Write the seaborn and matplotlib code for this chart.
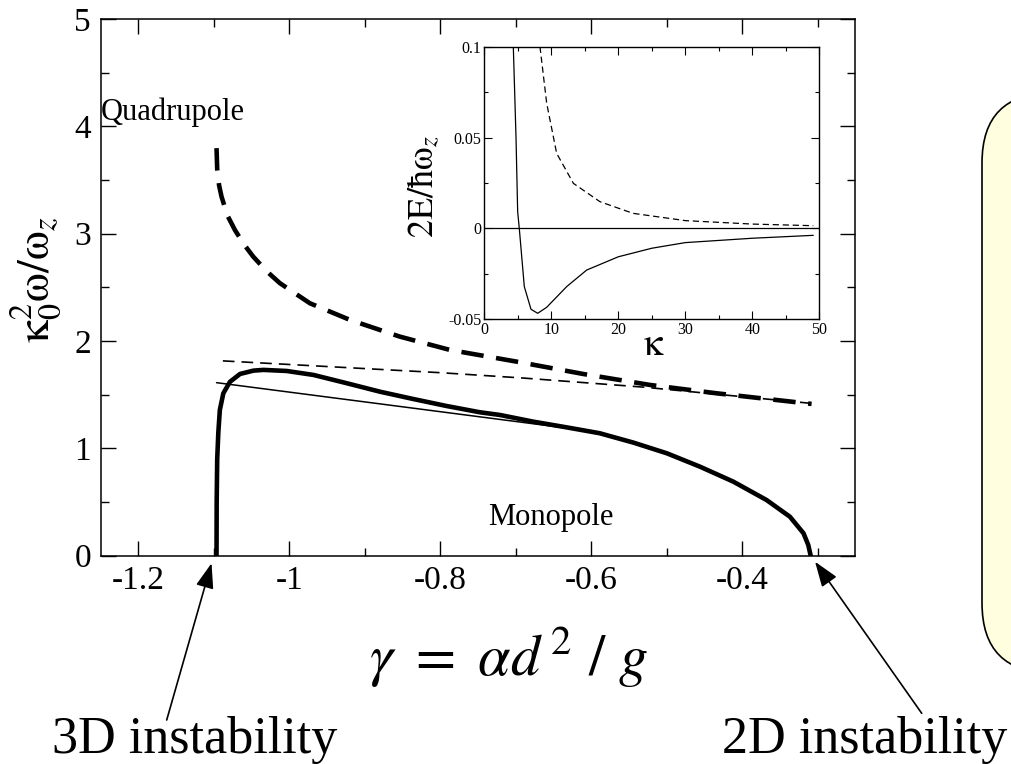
import numpy as np
import pandas as pd
import matplotlib
matplotlib.use("Agg")
import matplotlib.pyplot as plt
import seaborn as sns
from matplotlib.patches import FancyBboxPatch
from matplotlib.transforms import IdentityTransform

# ---------------- data ----------------
# main panel: monopole (thick solid)
mono_x = [-1.0964, -1.0962, -1.0955, -1.0940, -1.0920, -1.0874, -1.0786, -1.0653,
          -1.0477, -1.0344, -1.0035, -0.968, -0.924, -0.880, -0.836, -0.792,
          -0.7474, -0.721, -0.677, -0.633, -0.589, -0.544, -0.500, -0.456,
          -0.412, -0.368, -0.337, -0.319, -0.3127, -0.3095]
mono_y = [0.0, 0.50, 0.90, 1.15, 1.358, 1.513, 1.62, 1.693,
          1.724, 1.731, 1.721, 1.684, 1.607, 1.528, 1.46, 1.395,
          1.336, 1.311, 1.249, 1.196, 1.141, 1.053, 0.954, 0.829,
          0.69, 0.519, 0.363, 0.209, 0.10, 0.0]
# monopole approximation (thin solid)
mono_approx_x = [-1.0964, -0.59]
mono_approx_y = [1.612, 1.150]
# quadrupole (thick dashed)
quad_x = [-1.0964, -1.0955, -1.0930, -1.0898, -1.0820, -1.0721, -1.0600, -1.0479,
          -1.0300, -1.0125, -0.9728, -0.9198, -0.8536, -0.7873, -0.699, -0.6108,
          -0.5225, -0.4341, -0.3083]
quad_y = [3.797, 3.60, 3.45, 3.346, 3.17, 3.035, 2.90, 2.787,
          2.65, 2.539, 2.352, 2.197, 2.041, 1.917, 1.808, 1.693,
          1.591, 1.513, 1.414]
# quadrupole approximation (thin dashed)
quad_approx_x = [-1.088, -0.80, -0.69, -0.53, -0.31]
quad_approx_y = [1.815, 1.705, 1.655, 1.57, 1.42]

main_xticks = [-1.2, -1.0, -0.8, -0.6, -0.4]
main_xticklabels = ["-1.2", "-1", "-0.8", "-0.6", "-0.4"]
main_yticks = [0, 1, 2, 3, 4, 5]
main_yticklabels = ["0", "1", "2", "3", "4", "5"]

# inset: energy vs kappa
in_solid_k = [4.33, 4.73, 4.98, 5.23, 5.97, 6.97, 7.97, 9.31, 12.3, 15.28,
              20.0, 25.0, 30.0, 40.0, 49.1]
in_solid_e = [0.1, 0.0505, 0.0092, -0.0003, -0.032, -0.0445, -0.0467, -0.0434,
              -0.032, -0.0229, -0.0156, -0.0109, -0.0078, -0.0054, -0.0038]
in_dash_k = [8.31, 9.31, 10.8, 13.3, 17.27, 22.2, 30.0, 40.0, 49.1]
in_dash_e = [0.1, 0.0689, 0.0413, 0.0248, 0.0147, 0.0083, 0.0043, 0.0024, 0.0015]

in_xticks = [0, 10, 20, 30, 40, 50]
in_xticklabels = ["0", "10", "20", "30", "40", "50"]
in_yticks = [-0.05, 0.0, 0.05, 0.1]
in_yticklabels = ["-0.05", "0", "0.05", "0.1"]

# ---------------- style ----------------
sns.set_theme(style="ticks")
plt.rcParams["font.family"] = ["Liberation Serif", "DejaVu Serif"]
plt.rcParams["mathtext.fontset"] = "stix"
plt.rcParams["axes.unicode_minus"] = False

W, H = 1012, 764
fig = plt.figure(figsize=(W / 100, H / 100), dpi=100)
fig.patch.set_facecolor("white")

# rounded yellow box on the right (partially off-canvas)
box = FancyBboxPatch((982, H - 673), 250, 580,
                     boxstyle="round,pad=0,rounding_size=70",
                     transform=IdentityTransform(), facecolor="#ffffe0",
                     edgecolor="black", linewidth=1.2, zorder=0)
fig.add_artist(box)

# ---------------- main axes ----------------
ax = fig.add_axes([100.7 / W, 1 - 555.7 / H, (855 - 100.7) / W, (555.7 - 19) / H])
ax.set_facecolor("white")

sns.lineplot(x=mono_x, y=mono_y, ax=ax, sort=False, estimator=None,
             color="black", linewidth=3.3, solid_joinstyle="round")
sns.lineplot(x=mono_approx_x, y=mono_approx_y, ax=ax, sort=False, estimator=None,
             color="black", linewidth=1.1)
sns.lineplot(x=quad_x, y=quad_y, ax=ax, sort=False, estimator=None,
             color="black", linewidth=3.3, linestyle=(0, (4.9, 2.75)))
sns.lineplot(x=quad_approx_x, y=quad_approx_y, ax=ax, sort=False, estimator=None,
             color="black", linewidth=1.2, linestyle=(0, (7, 4.2)))

ax.set_xlim(-1.2498, -0.2508)
ax.set_ylim(0, 5)
ax.set_xticks(main_xticks)
ax.set_xticklabels(main_xticklabels)
ax.set_yticks(main_yticks)
ax.set_yticklabels(main_yticklabels)
ax.set_xticks([-1.1, -0.9, -0.7, -0.5, -0.3], minor=True)
ax.set_yticks([0.5, 1.5, 2.5, 3.5, 4.5], minor=True)
ax.tick_params(which="both", direction="in", top=True, right=True,
               colors="black", width=1.0)
ax.tick_params(which="major", length=10.8, labelsize=24, pad=7)
ax.tick_params(which="minor", length=5.8)
for s in ax.spines.values():
    s.set_color("black")
    s.set_linewidth(1.1)

ax.set_ylabel(r"$\mathrm{\kappa}_0^2\mathrm{\omega}/\mathrm{\omega}_z$",
              fontsize=33, color="black")
ax.yaxis.set_label_coords(-0.05, 0.515)
ax.set_xlabel(r"$\gamma\ =\ \alpha d^{\,2}\ /\ g$", fontsize=42, color="black")
ax.xaxis.set_label_coords(0.54, -0.13)

ax.text(-1.2498, 4.06, "Quadrupole", fontsize=22, ha="left", va="baseline",
        color="black")
ax.text(-0.737, 0.287, "Monopole", fontsize=22, ha="left", va="baseline",
        color="black")

# arrows to instability points
arrow_style = dict(arrowstyle="-|>,head_length=0.7,head_width=0.25",
                   color="black", lw=1.2, mutation_scale=22,
                   shrinkA=0, shrinkB=0)
ax.annotate("", xy=(-1.103, -0.07), xycoords="data",
            xytext=(166.7, H - 720), textcoords="figure pixels",
            arrowprops=arrow_style, annotation_clip=False)
ax.annotate("", xy=(-0.3037, -0.056), xycoords="data",
            xytext=(921.7, H - 713.3), textcoords="figure pixels",
            arrowprops=arrow_style, annotation_clip=False)
fig.text(52 / W, 11 / H, "3D instability", fontsize=37.5, ha="left",
         va="baseline", color="black")
fig.text(722 / W, 11 / H, "2D instability", fontsize=37.5, ha="left",
         va="baseline", color="black")

# ---------------- inset ----------------
ins = fig.add_axes([484.3 / W, 1 - 319.3 / H, (819.3 - 484.3) / W, (319.3 - 46.7) / H])
ins.set_facecolor("white")
ins.axhline(0, color="black", linewidth=0.9)
sns.lineplot(x=in_solid_k, y=in_solid_e, ax=ins, sort=False, estimator=None,
             color="black", linewidth=0.9)
sns.lineplot(x=in_dash_k, y=in_dash_e, ax=ins, sort=False, estimator=None,
             color="black", linewidth=0.9, linestyle=(0, (5, 3)))
ins.set_xlim(0, 50)
ins.set_ylim(-0.05, 0.1)
ins.set_xticks(in_xticks)
ins.set_xticklabels(in_xticklabels)
ins.set_yticks(in_yticks)
ins.set_yticklabels(in_yticklabels)
ins.set_xticks([5, 15, 25, 35, 45], minor=True)
ins.set_yticks([-0.025, 0.025, 0.075], minor=True)
ins.tick_params(which="both", direction="in", top=True, right=True,
                colors="black", width=0.8)
ins.tick_params(which="major", length=6, labelsize=11.5, pad=2)
ins.tick_params(which="minor", length=3)
for s in ins.spines.values():
    s.set_color("black")
    s.set_linewidth(1.0)
ins.set_ylabel(r"$\mathrm{2E/\hbar\omega}_z$", fontsize=26, color="black")
ins.yaxis.set_label_coords(-0.125, 0.487)
ins.set_xlabel(r"$\mathrm{\kappa}$", fontsize=28, color="black")
ins.xaxis.set_label_coords(0.5066, -0.03)

fig.savefig("out.png", dpi=100, facecolor="white")
